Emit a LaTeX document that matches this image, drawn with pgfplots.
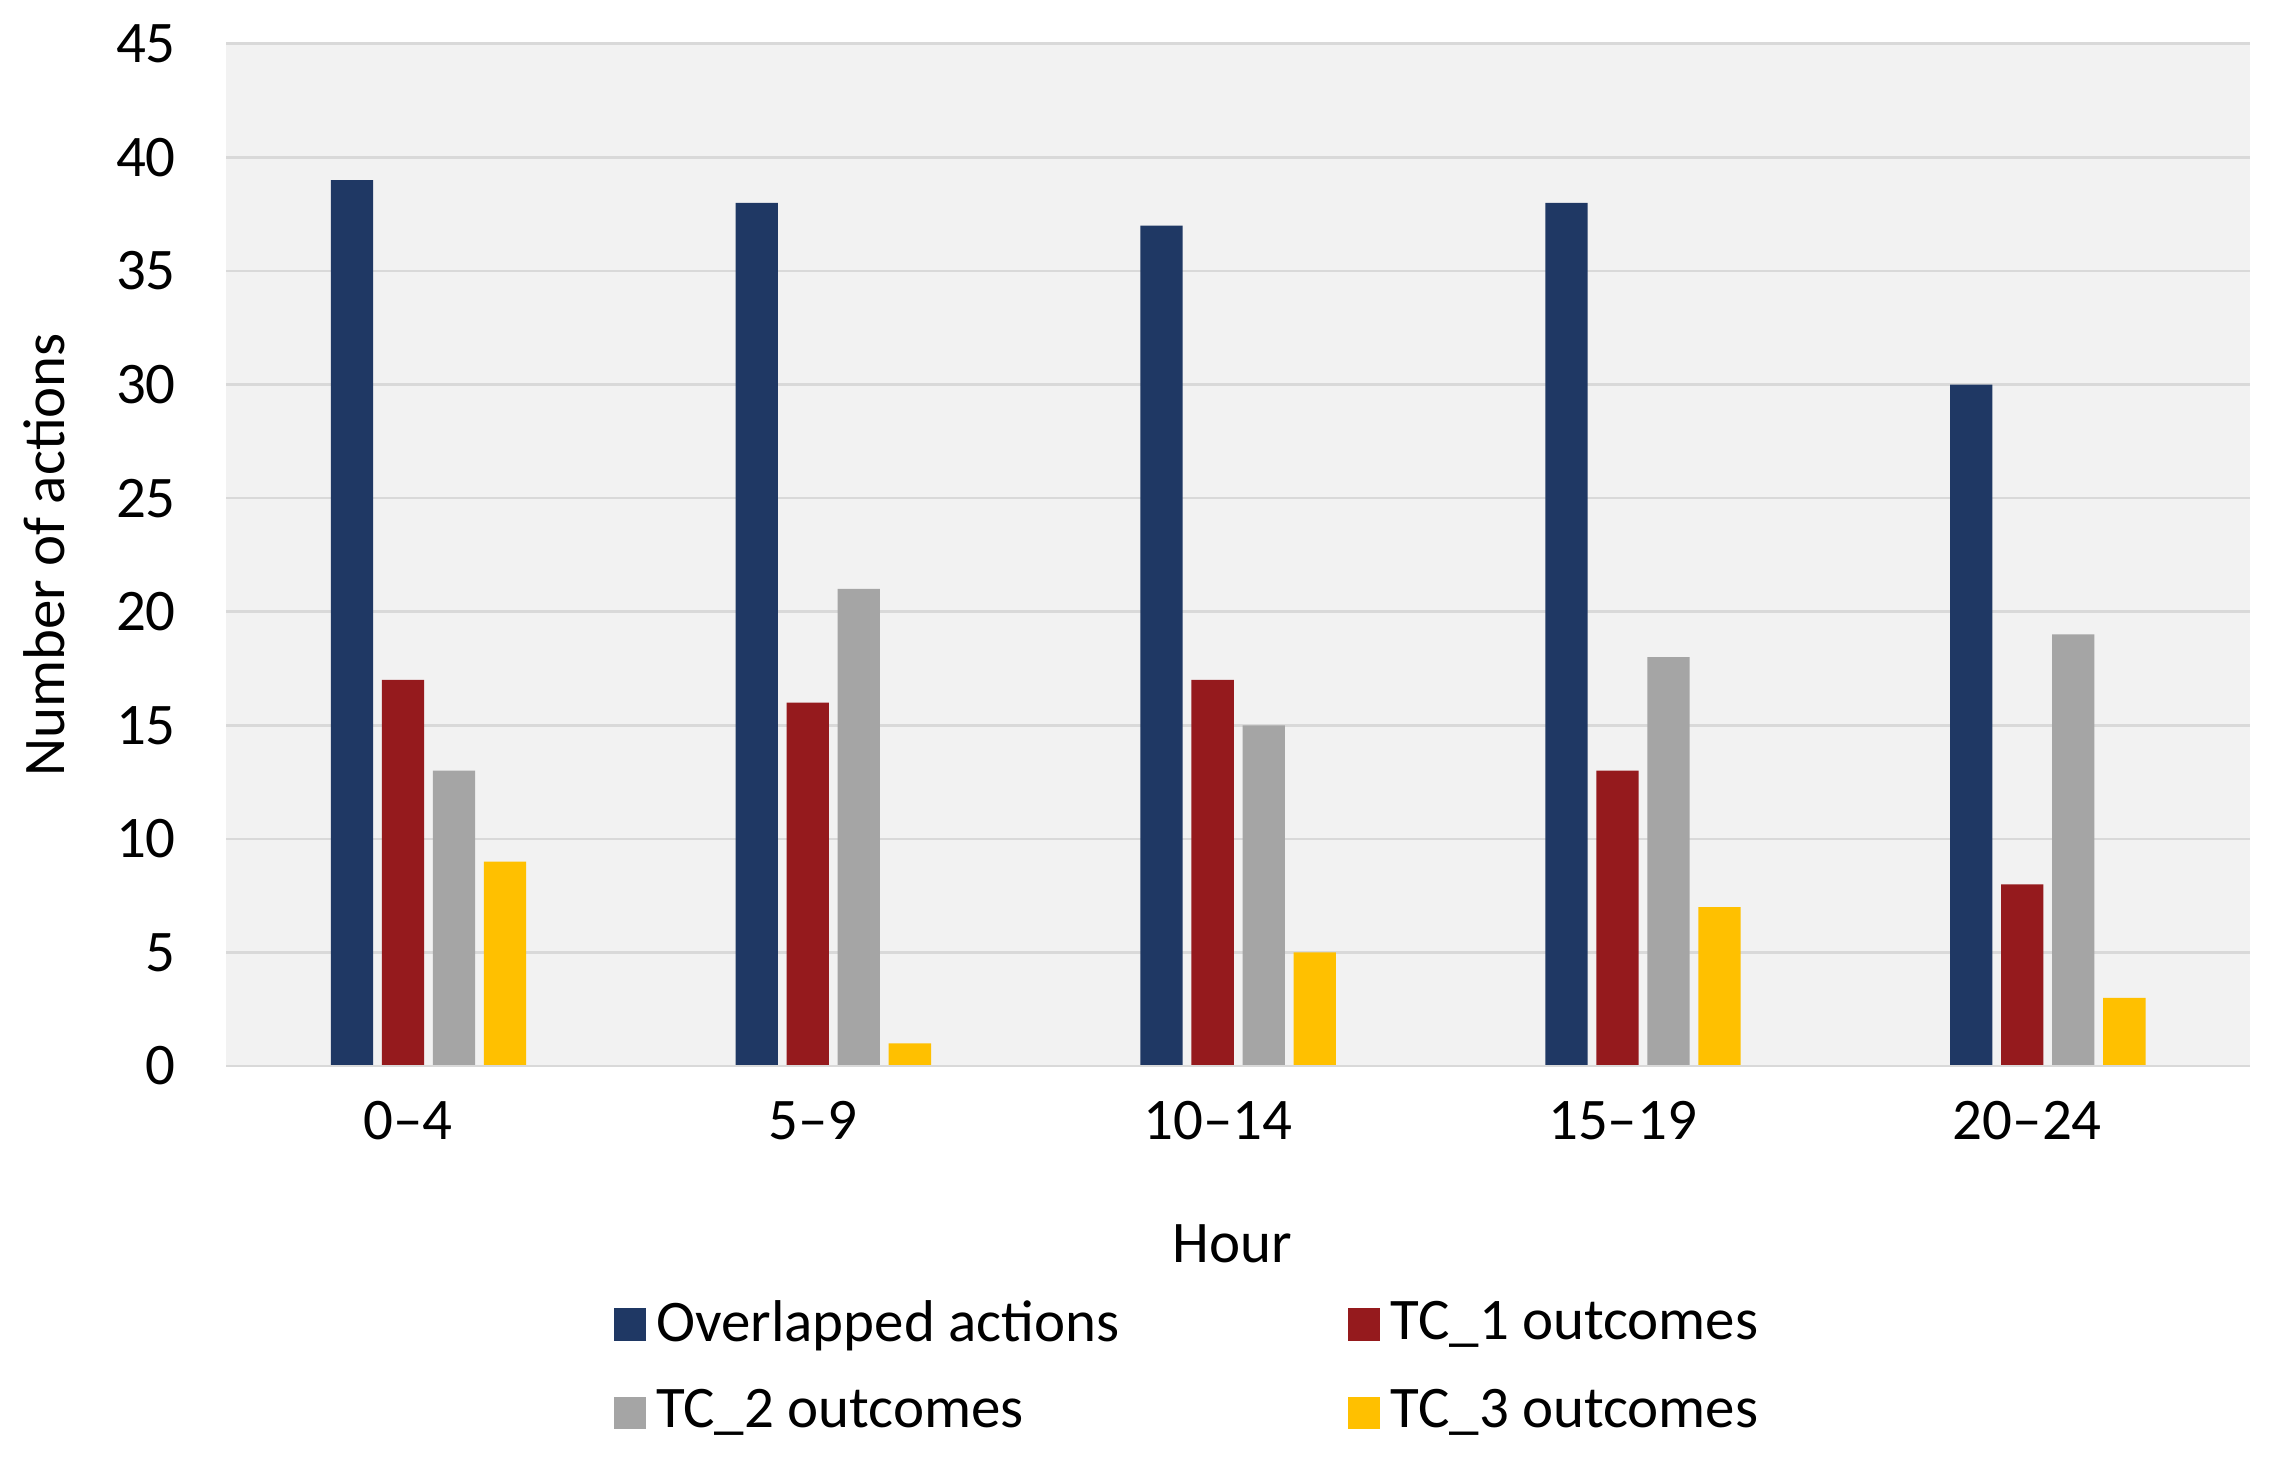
\documentclass[border=0pt]{standalone}
\usepackage{pgfplots}
\pgfplotsset{compat=1.18}
\usepackage{fontspec}
\setmainfont{Carlito}
\definecolor{navy}{HTML}{1F3864}
\definecolor{darkred}{HTML}{951A1D}
\definecolor{midgray}{HTML}{A5A5A5}
\definecolor{gold}{HTML}{FFC000}
\definecolor{plotbg}{HTML}{F2F2F2}
\definecolor{gridcol}{HTML}{D9D9D9}
\begin{document}
\begin{tikzpicture}
\useasboundingbox (-1.55,-2.73) rectangle (14.05,7.31);
\begin{axis}[
    at={(0,0)}, anchor=south west,
    scale only axis,
    width=13.88cm, height=7.01cm,
    ybar=0.06cm, bar width=0.29cm,
    xmin=-0.5, xmax=4.5,
    ymin=0, ymax=45,
    ytick={0,5,...,45},
    xtick=data,
    xticklabels={0--4,5--9,10--14,15--19,20--24},
    major tick length=0,
    axis line style={draw=none},
    axis background/.style={fill=plotbg},
    ymajorgrids,
    grid style={color=gridcol, line width=0.5pt},
    font=\fontsize{11.5}{14}\selectfont,
    /pgf/number format/assume math mode=true,
    yticklabel style={xshift=-0.22cm},
    xticklabel style={yshift=-0.12cm, xshift=-0.14cm},
    xlabel={Hour},
    ylabel={Number of actions},
    xlabel style={at={(axis description cs:0.497,-0.174)}, anchor=center},
    ylabel style={at={(axis description cs:-0.090,0.5)}, anchor=center},
    legend columns=2,
    legend cell align=left,
    legend style={
        at={(axis description cs:0.191,-0.218)}, anchor=north west,
        draw=none, fill=none, inner sep=0pt,
        font=\fontsize{11.5}{14}\selectfont,
        row sep=0.14cm,
        /tikz/every even column/.append style={column sep=1.5cm},
    },
    legend image code/.code={
        \fill[#1] (0cm,-0.11cm) rectangle (0.22cm,0.11cm);
    },
]
\addplot[fill=navy, draw=none] coordinates {(0,39) (1,38) (2,37) (3,38) (4,30)};
\addplot[fill=darkred, draw=none] coordinates {(0,17) (1,16) (2,17) (3,13) (4,8)};
\addplot[fill=midgray, draw=none] coordinates {(0,13) (1,21) (2,15) (3,18) (4,19)};
\addplot[fill=gold, draw=none] coordinates {(0,9) (1,1) (2,5) (3,7) (4,3)};
\draw[gridcol, line width=0.6pt] (axis cs:-0.5,0) -- (axis cs:4.5,0);
\legend{Overlapped actions, TC\_1 outcomes, TC\_2 outcomes, TC\_3 outcomes}
\end{axis}
\end{tikzpicture}
\end{document}
